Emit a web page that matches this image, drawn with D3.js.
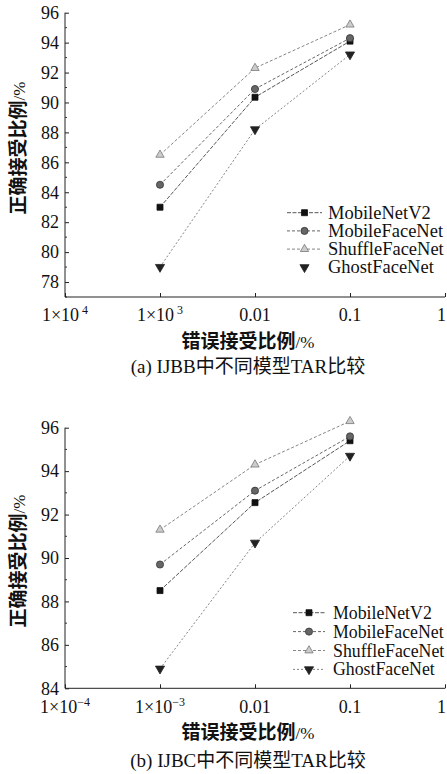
<!DOCTYPE html>
<html>
<head>
<meta charset="utf-8">
<script src="https://cdn.jsdelivr.net/npm/d3@7/dist/d3.min.js"></script>
<style>
  html, body { margin: 0; padding: 0; background: #fff; }
  svg { display: block; }
</style>
</head>
<body>
<div id="chart"></div>
<script>
const SERIF = "'Liberation Serif', 'DejaVu Serif', serif";
const CJK = "'Noto Sans CJK SC', sans-serif";

// x positions (false accept rate, %)
const farValues = [0.001, 0.01, 0.1];
const xTickValues = [1e-4, 1e-3, 0.01, 0.1, 1];
const xTickLabelsA = [["1×10", " 4"], ["1×10", " 3"], ["0.01", ""], ["0.1", ""], ["1", ""]];
const xTickLabelsB = [["1×10", "−4"], ["1×10", "−3"], ["0.01", ""], ["0.1", ""], ["1", ""]];

const seriesNames = ["MobileNetV2", "MobileFaceNet", "ShuffleFaceNet", "GhostFaceNet"];

// (a) IJBB
const ijbbMobileNetV2 = [83.0, 90.35, 94.1];
const ijbbMobileFaceNet = [84.5, 90.9, 94.3];
const ijbbShuffleFaceNet = [86.5, 92.3, 95.2];
const ijbbGhostFaceNet = [79.0, 88.2, 93.2];

// (b) IJBC
const ijbcMobileNetV2 = [88.5, 92.55, 95.4];
const ijbcMobileFaceNet = [89.7, 93.1, 95.6];
const ijbcShuffleFaceNet = [91.3, 94.3, 96.3];
const ijbcGhostFaceNet = [84.9, 90.7, 94.7];

const yTicksA = [78, 80, 82, 84, 86, 88, 90, 92, 94, 96];
const yTicksB = [84, 86, 88, 90, 92, 94, 96];

const W = 447, H = 774;
const svg = d3.select("#chart").append("svg")
  .attr("width", W).attr("height", H);

const x = d3.scaleLog().domain([1e-4, 1]).range([65, 445]);

const styles = {
  "MobileNetV2":    { line: "#444", dash: "4,1.5", sym: d3.symbolSquare, size: 36, fill: "#111", stroke: "#111", rot: 0 },
  "MobileFaceNet":  { line: "#555", dash: "3,2",   sym: d3.symbolCircle, size: 40, fill: "#666", stroke: "#333", rot: 0 },
  "ShuffleFaceNet": { line: "#777", dash: "3,2",   sym: d3.symbolTriangle, size: 30, fill: "#ccc", stroke: "#777", rot: 0 },
  "GhostFaceNet":   { line: "#777", dash: "2,2",   sym: d3.symbolTriangle, size: 36, fill: "#222", stroke: "#222", rot: 180 }
};

function drawPanel(opt) {
  const y = d3.scaleLinear().domain(opt.yDomain).range([opt.yBottom, opt.yTop]);
  const g = svg.append("g");

  // y axis with inward ticks
  const yAxis = g.append("g")
    .attr("transform", `translate(${x.range()[0]},0)`)
    .call(d3.axisLeft(y).tickValues(opt.yTicks).tickSize(-4).tickPadding(6).tickFormat(d3.format("d")));
  yAxis.attr("font-family", null);
  yAxis.select(".domain").attr("stroke", "#222").attr("d", `M0,${opt.yBottom}V${opt.yTop}`);
  yAxis.selectAll(".tick line").attr("stroke", "#222");
  yAxis.selectAll("text").style("font-family", SERIF).style("font-size", "18px").attr("fill", "#111");

  // minor y ticks
  const minor = d3.range(opt.yDomain[0], opt.yDomain[1] + 0.01, 1).filter(v => !opt.yTicks.includes(v));
  g.selectAll(".minor").data(minor).enter().append("line")
    .attr("x1", x.range()[0]).attr("x2", x.range()[0] + 2)
    .attr("y1", d => y(d)).attr("y2", d => y(d))
    .attr("stroke", "#333");

  // x axis with inward ticks
  const xAxis = g.append("g")
    .attr("transform", `translate(0,${opt.yBottom})`)
    .call(d3.axisBottom(x).tickValues(xTickValues).tickSize(-4).tickFormat(""));
  xAxis.select(".domain").attr("stroke", "#222").attr("d", `M${x.range()[0]},0H${x.range()[1]}`);
  xAxis.selectAll(".tick line").attr("stroke", "#222");

  // x tick labels
  const lab = g.selectAll(".xlab").data(xTickValues).enter().append("text")
    .attr("x", (d, i) => i === xTickValues.length - 1 ? W - 1 : x(d))
    .attr("y", opt.yBottom + opt.xLabelDy)
    .attr("text-anchor", (d, i) => i === xTickValues.length - 1 ? "end" : "middle")
    .style("font-family", SERIF)
    .style("font-size", "18px")
    .attr("fill", "#111");
  lab.append("tspan").text((d, i) => opt.xLabels[i][0]);
  lab.append("tspan").style("font-size", "12px").attr("dy", -7).text((d, i) => opt.xLabels[i][1]);

  // series
  opt.series.forEach((vals, si) => {
    const name = seriesNames[si];
    const st = styles[name];
    const pts = farValues.map((f, i) => [x(f), y(vals[i])]);
    g.append("path")
      .attr("d", d3.line()(pts))
      .attr("fill", "none")
      .attr("stroke", st.line)
      .attr("stroke-width", 0.9)
      .attr("stroke-dasharray", st.dash);
    g.selectAll(null).data(pts).enter().append("path")
      .attr("d", d3.symbol().type(st.sym).size(st.size))
      .attr("transform", d => `translate(${d[0]},${d[1]}) rotate(${st.rot})`)
      .attr("fill", st.fill)
      .attr("stroke", st.stroke)
      .attr("stroke-width", 0.8);
  });

  // legend
  const lg = g.append("g");
  seriesNames.forEach((name, i) => {
    const st = styles[name];
    const cy = opt.legend.y0 + i * opt.legend.dy;
    if (opt.legend.lines[i]) {
      lg.append("line")
        .attr("x1", opt.legend.x1).attr("x2", opt.legend.x2)
        .attr("y1", cy).attr("y2", cy)
        .attr("stroke", st.line).attr("stroke-width", 0.9)
        .attr("stroke-dasharray", st.dash);
    }
    lg.append("path")
      .attr("d", d3.symbol().type(st.sym).size(st.size))
      .attr("transform", `translate(${(opt.legend.x1 + opt.legend.x2) / 2},${cy}) rotate(${st.rot})`)
      .attr("fill", st.fill).attr("stroke", st.stroke).attr("stroke-width", 0.8);
    lg.append("text")
      .attr("x", opt.legend.tx).attr("y", cy + 6)
      .style("font-family", SERIF).style("font-size", opt.legend.fs + "px").attr("fill", "#111")
      .text(name);
  });

  // y axis title
  const yt = g.append("text")
    .attr("transform", `translate(25,${opt.yTitleY}) rotate(-90)`)
    .attr("text-anchor", "middle")
    .attr("fill", "#111");
  yt.append("tspan").style("font-family", CJK).style("font-size", "19px").style("font-weight", "bold").text("正确接受比例");
  yt.append("tspan").style("font-family", SERIF).style("font-size", "17px").text("/%");

  // x axis title
  const xt = g.append("text")
    .attr("x", 248).attr("y", opt.xTitleY)
    .attr("text-anchor", "middle").attr("fill", "#111");
  xt.append("tspan").style("font-family", CJK).style("font-size", "19px").style("font-weight", "bold").text("错误接受比例");
  xt.append("tspan").style("font-family", SERIF).style("font-size", "17px").text("/%");

  // caption
  const cap = g.append("text")
    .attr("x", 248).attr("y", opt.captionY)
    .attr("text-anchor", "middle").attr("fill", "#111");
  opt.caption.forEach(part => {
    cap.append("tspan").style("font-family", part[1] ? CJK : SERIF).style("font-size", "19px").text(part[0]);
  });
}

drawPanel({
  yDomain: [77, 96], yTop: 12.7, yBottom: 297, yTicks: yTicksA,
  xLabels: xTickLabelsA, xLabelDy: 24,
  series: [ijbbMobileNetV2, ijbbMobileFaceNet, ijbbShuffleFaceNet, ijbbGhostFaceNet],
  legend: { x1: 287, x2: 322, tx: 328, y0: 212.7, dy: 18.2, fs: 18.5, lines: [true, true, true, false] },
  yTitleY: 148, xTitleY: 348, captionY: 373,
  caption: [["(a) IJBB", false], ["中不同模型", true], ["TAR", false], ["比较", true]]
});

drawPanel({
  yDomain: [84, 96], yTop: 427.7, yBottom: 688.3, yTicks: yTicksB,
  xLabels: xTickLabelsB, xLabelDy: 25,
  series: [ijbcMobileNetV2, ijbcMobileFaceNet, ijbcShuffleFaceNet, ijbcGhostFaceNet],
  legend: { x1: 293, x2: 325, tx: 333, y0: 612.7, dy: 18.9, fs: 17.8, lines: [true, true, true, true] },
  yTitleY: 561, xTitleY: 739, captionY: 767,
  caption: [["(b) IJBC", false], ["中不同模型", true], ["TAR", false], ["比较", true]]
});
</script>
</body>
</html>
